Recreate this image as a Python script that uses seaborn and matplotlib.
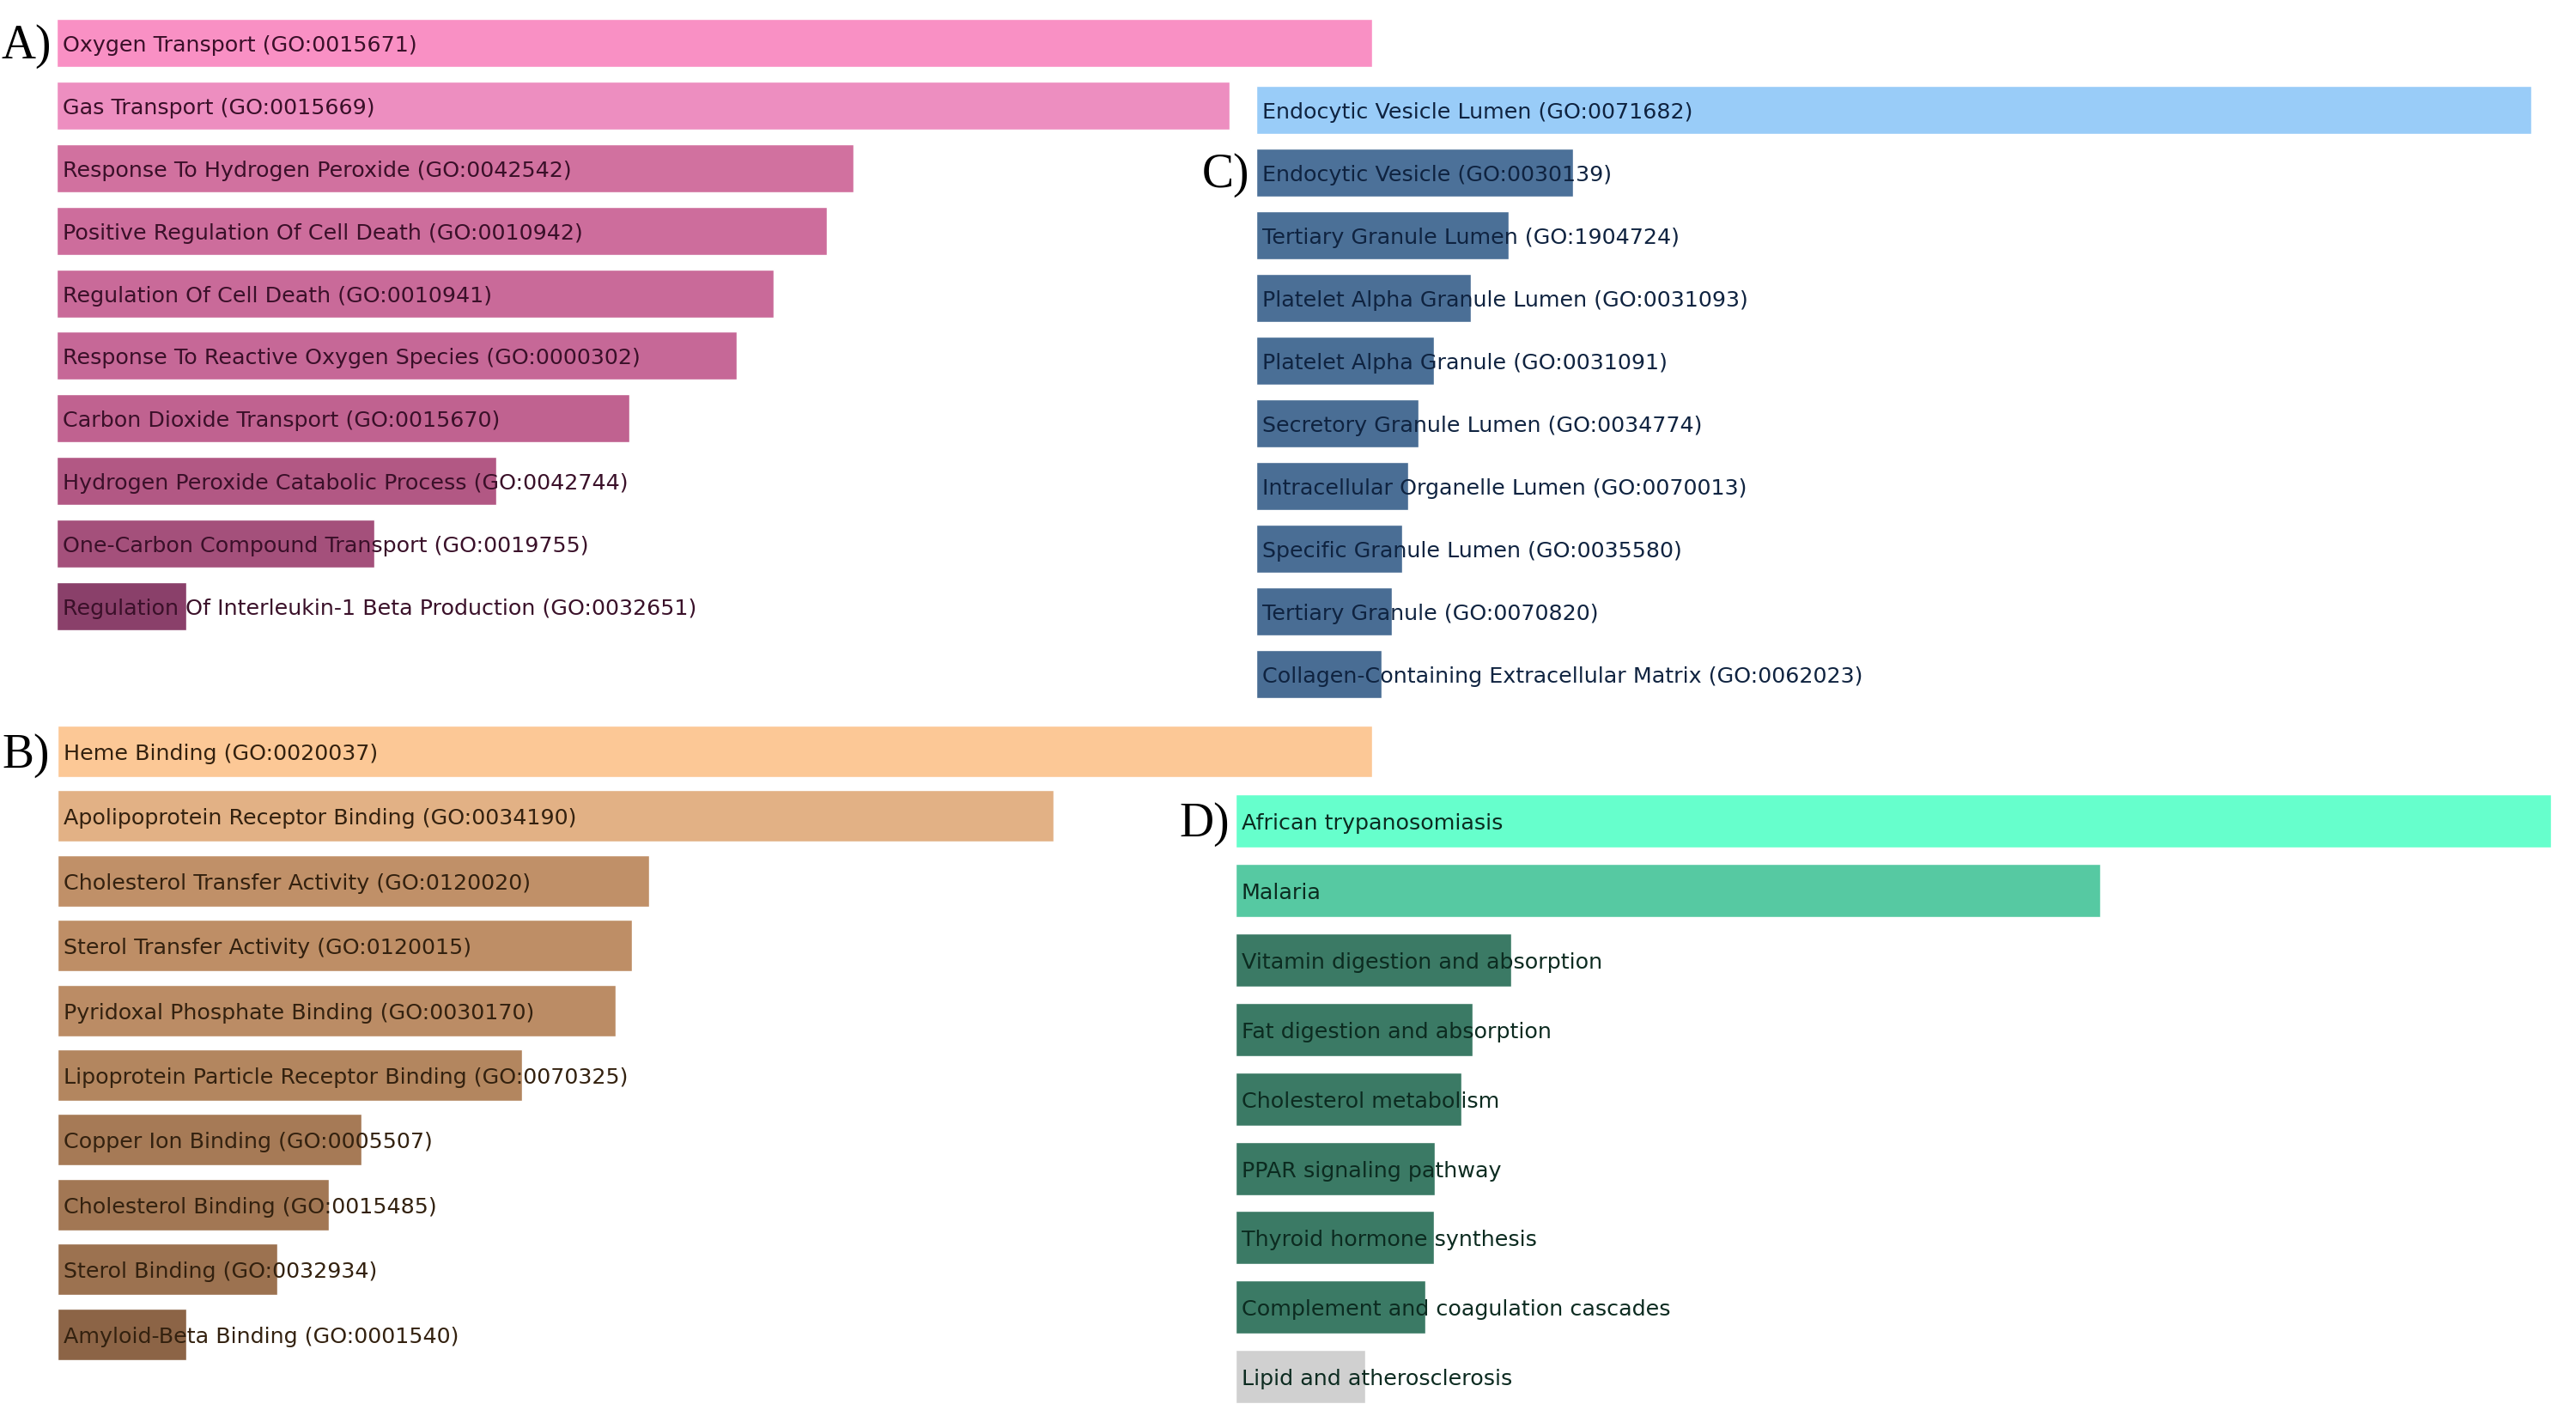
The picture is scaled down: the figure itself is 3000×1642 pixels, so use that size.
import numpy as np
import pandas as pd
import matplotlib
matplotlib.use("Agg")
import matplotlib.pyplot as plt
from matplotlib import font_manager
import seaborn as sns

# Data (bar lengths, arbitrary enrichment score units)
bp_terms = ['Oxygen Transport (GO:0015671)', 'Gas Transport (GO:0015669)',
            'Response To Hydrogen Peroxide (GO:0042542)',
            'Positive Regulation Of Cell Death (GO:0010942)',
            'Regulation Of Cell Death (GO:0010941)',
            'Response To Reactive Oxygen Species (GO:0000302)',
            'Carbon Dioxide Transport (GO:0015670)',
            'Hydrogen Peroxide Catabolic Process (GO:0042744)',
            'One-Carbon Compound Transport (GO:0019755)',
            'Regulation Of Interleukin-1 Beta Production (GO:0032651)']
bp_scores = [15.32, 13.66, 9.28, 8.97, 8.35, 7.92, 6.67, 5.12, 3.70, 1.51]

mf_terms = ['Heme Binding (GO:0020037)', 'Apolipoprotein Receptor Binding (GO:0034190)',
            'Cholesterol Transfer Activity (GO:0120020)', 'Sterol Transfer Activity (GO:0120015)',
            'Pyridoxal Phosphate Binding (GO:0030170)',
            'Lipoprotein Particle Receptor Binding (GO:0070325)',
            'Copper Ion Binding (GO:0005507)', 'Cholesterol Binding (GO:0015485)',
            'Sterol Binding (GO:0032934)', 'Amyloid-Beta Binding (GO:0001540)']
mf_scores = [15.31, 11.60, 6.89, 6.69, 6.50, 5.41, 3.54, 3.16, 2.56, 1.50]

cc_terms = ['Endocytic Vesicle Lumen (GO:0071682)', 'Endocytic Vesicle (GO:0030139)',
            'Tertiary Granule Lumen (GO:1904724)', 'Platelet Alpha Granule Lumen (GO:0031093)',
            'Platelet Alpha Granule (GO:0031091)', 'Secretory Granule Lumen (GO:0034774)',
            'Intracellular Organelle Lumen (GO:0070013)', 'Specific Granule Lumen (GO:0035580)',
            'Tertiary Granule (GO:0070820)',
            'Collagen-Containing Extracellular Matrix (GO:0062023)']
cc_scores = [14.85, 3.69, 2.94, 2.50, 2.07, 1.89, 1.77, 1.70, 1.58, 1.46]

kegg_terms = ['African trypanosomiasis', 'Malaria', 'Vitamin digestion and absorption',
              'Fat digestion and absorption', 'Cholesterol metabolism', 'PPAR signaling pathway',
              'Thyroid hormone synthesis', 'Complement and coagulation cascades',
              'Lipid and atherosclerosis']
kegg_scores = [15.32, 10.07, 3.21, 2.76, 2.63, 2.32, 2.31, 2.21, 1.51]

# Colours
bp_colors = ['#f990c4', '#ed8ec0', '#d1719f', '#cd6d9c', '#c96a99', '#c66897',
             '#c06290', '#b25884', '#a4507b', '#8a406a']
mf_colors = ['#fcc896', '#e2b185', '#c09068', '#be8e66', '#bb8c65', '#b3865f',
             '#a67a56', '#a27754', '#9c7250', '#8c6446']
cc_colors = ['#99ccf8', '#4c7199', '#4b7097', '#4b6f96', '#4a6f96', '#4a6e95',
             '#4a6e95', '#4a6e95', '#496d94', '#496d94']
kegg_colors = ['#66ffcc', '#56c9a2', '#3b7a65', '#3b7a65', '#3b7a65', '#3b7a65',
               '#3b7a65', '#3b7a65', '#d0d0d0']

sns.set_style('white')
installed = {f.name for f in font_manager.fontManager.ttflist}
if 'Liberation Sans Narrow' in installed:
    label_font, label_size = 'Liberation Sans Narrow', 23.5
else:
    label_font, label_size = 'DejaVu Sans', 18.3
plt.rcParams['font.family'] = [label_font, 'DejaVu Sans']

W, H = 3000, 1642
fig = plt.figure(figsize=(W / 100, H / 100), dpi=100)
fig.patch.set_facecolor('white')


def panel(terms, scores, colors, left, right, first_c, step, bar_h, txt_color):
    n = len(terms)
    top = first_c - step / 2
    ax = fig.add_axes([left / W, 1 - (top + n * step) / H, (right - left) / W, n * step / H])
    df = pd.DataFrame({'term': terms, 'score': scores})
    sns.barplot(data=df, x='score', y='term', hue='term', palette=colors, legend=False,
                orient='h', width=bar_h / step, saturation=1, ax=ax)
    ax.set_xlim(0, max(scores))
    ax.set_ylim(n - 0.5, -0.5)
    ax.axis('off')
    for i, t in enumerate(terms):
        ax.annotate(t, xy=(0, i), xytext=(7, -3), textcoords='offset pixels',
                    va='center', ha='left', fontsize=label_size, color=txt_color,
                    annotation_clip=False)
    return ax


panel(bp_terms, bp_scores, bp_colors, 66, 1598, 50, 72.9, 56, '#3a1029')
panel(mf_terms, mf_scores, mf_colors, 67, 1598, 875, 75.4, 60, '#33210f')
panel(cc_terms, cc_scores, cc_colors, 1463, 2948, 128, 73.0, 56, '#0f2340')
panel(kegg_terms, kegg_scores, kegg_colors, 1439, 2971, 956, 80.9, 62, '#0c2b20')

serif = ['Liberation Serif', 'DejaVu Serif']
for lab, x, y in [('A)', 2, 54), ('B)', 2, 880), ('C)', 1400, 204), ('D)', 1373, 960)]:
    fig.text(x / W, 1 - y / H, lab, ha='left', va='center', fontsize=40,
             family=serif, color='black')

fig.savefig('out.png', dpi=100, facecolor='white')
